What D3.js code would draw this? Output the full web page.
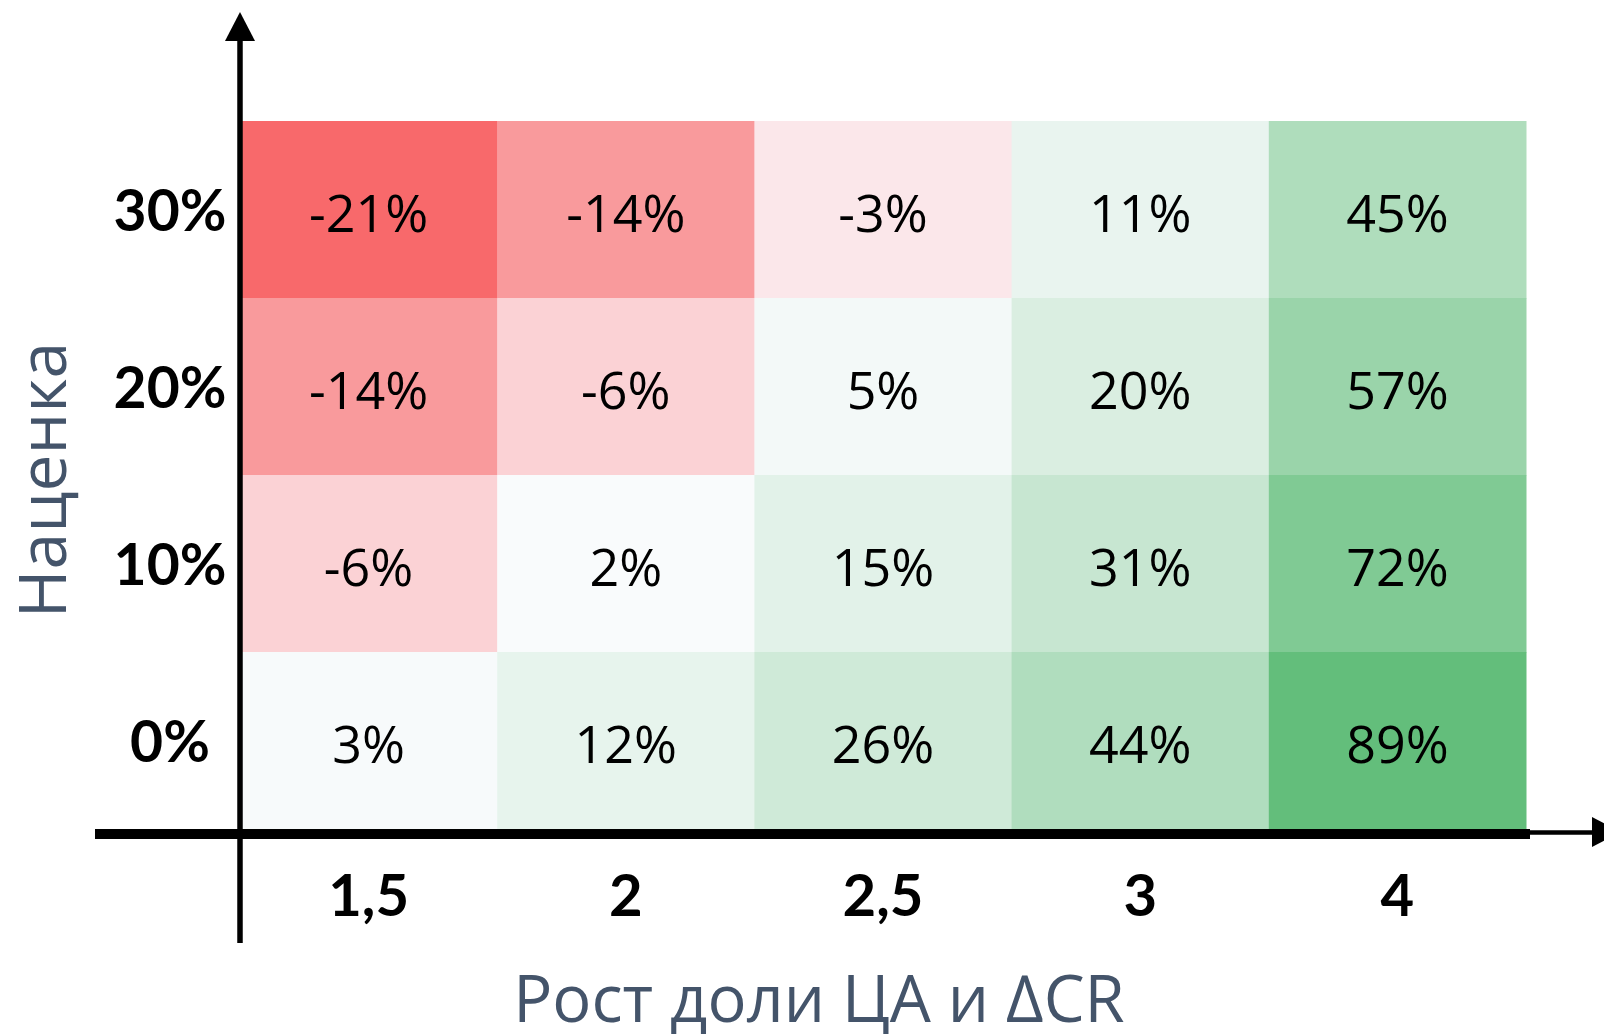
<!DOCTYPE html>
<html>
<head>
<meta charset="utf-8">
<script src="https://cdn.jsdelivr.net/npm/d3@7"></script>
<style>
  html, body { margin: 0; padding: 0; background: #fff; }
  svg { display: block; font-family: "Open Sans", Lato, sans-serif; }
</style>
</head>
<body>
<div id="chart"></div>
<script>
// x categories (Рост доли ЦА и ∆CR) and y categories (Наценка)
var xLabels = ["1,5", "2", "2,5", "3", "4"];
var yLabels = ["30%", "20%", "10%", "0%"];

// values per row, in %
var row30 = [-21, -14, -3, 11, 45];
var row20 = [-14, -6, 5, 20, 57];
var row10 = [-6, 2, 15, 31, 72];
var row0 = [3, 12, 26, 44, 89];
var rows = [row30, row20, row10, row0];

var width = 1604, height = 1034;

var svg = d3.select("#chart").append("svg")
    .attr("width", width)
    .attr("height", height);

var x = d3.scaleBand().domain(xLabels).range([240, 1526]);
var y = d3.scaleBand().domain(yLabels).range([121, 829]);

// excel style red - white - green scale
var color = d3.scaleLinear()
    .domain([d3.min(rows, function (r) { return d3.min(r); }), 0, d3.max(rows, function (r) { return d3.max(r); })])
    .range(["#F8696B", "#FCFCFF", "#63BE7B"]);

var cells = [];
rows.forEach(function (r, i) {
    r.forEach(function (v, j) {
        cells.push({ row: yLabels[i], col: xLabels[j], value: v });
    });
});

svg.append("g").selectAll("rect")
    .data(cells)
    .enter().append("rect")
    .attr("x", function (d) { return x(d.col); })
    .attr("y", function (d) { return y(d.row); })
    .attr("width", x.bandwidth() + 0.5)
    .attr("height", y.bandwidth() + 0.5)
    .attr("fill", function (d) { return color(d.value); });

svg.append("g").selectAll("text")
    .data(cells)
    .enter().append("text")
    .attr("x", function (d) { return x(d.col) + x.bandwidth() / 2; })
    .attr("y", function (d) { return y(d.row) + y.bandwidth() / 2; })
    .attr("dy", "0.43em")
    .attr("text-anchor", "middle")
    .attr("font-size", 52)
    .attr("fill", "#000")
    .text(function (d) { return d.value + "%"; });

// tick labels through d3 axes
var yAxis = svg.append("g")
    .attr("transform", "translate(240,0)")
    .call(d3.axisLeft(y).tickSize(0).tickPadding(70));
yAxis.select(".domain").remove();
yAxis.selectAll("text")
    .attr("text-anchor", "middle")
    .attr("dy", "0.37em")
    .attr("font-family", "Lato, sans-serif")
    .attr("font-size", 57)
    .attr("font-weight", "bold")
    .attr("fill", "#000");

var xAxis = svg.append("g")
    .attr("transform", "translate(0,829)")
    .call(d3.axisBottom(x).tickSize(0).tickPadding(46));
xAxis.select(".domain").remove();
xAxis.selectAll("text")
    .attr("font-family", "Lato, sans-serif")
    .attr("font-size", 58)
    .attr("font-weight", "bold")
    .attr("fill", "#000");

// axis arrows
svg.append("line")
    .attr("x1", 240).attr("y1", 943)
    .attr("x2", 240).attr("y2", 40)
    .attr("stroke", "#000").attr("stroke-width", 5.5);
svg.append("path")
    .attr("d", "M225,41 L240,12 L255,41 Z")
    .attr("fill", "#000");

svg.append("line")
    .attr("x1", 95).attr("y1", 834)
    .attr("x2", 1530).attr("y2", 834)
    .attr("stroke", "#000").attr("stroke-width", 10);
svg.append("line")
    .attr("x1", 1528).attr("y1", 832.5)
    .attr("x2", 1594).attr("y2", 832.5)
    .attr("stroke", "#000").attr("stroke-width", 4.5);
svg.append("path")
    .attr("d", "M1592,817 L1621,832 L1592,847 Z")
    .attr("fill", "#000");

// axis titles
svg.append("text")
    .attr("transform", "translate(66,480) rotate(-90)")
    .attr("text-anchor", "middle")
    .attr("font-size", 66)
    .attr("fill", "#44546A")
    .text("Наценка");

svg.append("text")
    .attr("x", 819)
    .attr("y", 1022)
    .attr("text-anchor", "middle")
    .attr("font-size", 65)
    .attr("fill", "#44546A")
    .text("Рост доли ЦА и ∆CR");
</script>
</body>
</html>
